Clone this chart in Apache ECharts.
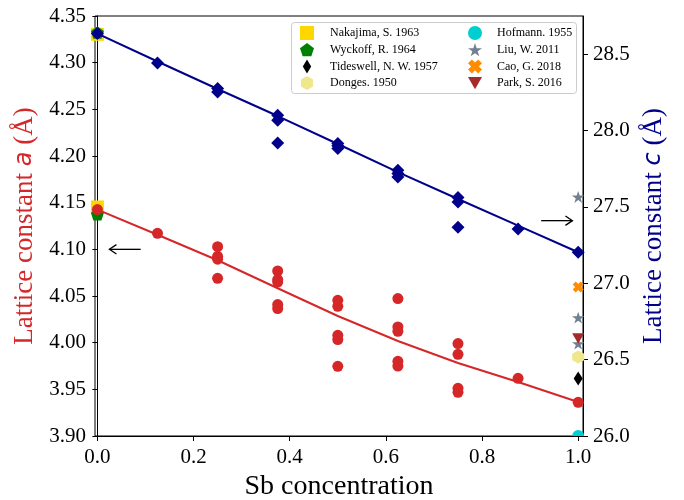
<!DOCTYPE html>
<html>
<head>
<meta charset="utf-8">
<script src="https://cdn.jsdelivr.net/npm/echarts@6/dist/echarts.min.js"></script>
<style>
  html, body { margin: 0; padding: 0; background: #fff; }
  #chart { width: 684px; height: 500px; }
</style>
</head>
<body>
<div id="chart"></div>
<script>
// Sb concentration of the computed structures
const concentrations = [0, 0.125, 0.25, 0.375, 0.5, 0.625, 0.75, 0.875, 1];

// Fitted trend lines (a on the left axis, c on the right axis)
const aFitLine = [4.1426, 4.1156, 4.0883, 4.0583, 4.0286, 4.0018, 3.9782, 3.9579, 3.9364];
const cFitLine = [28.635, 28.452, 28.272, 28.095, 27.912, 27.728, 27.552, 27.378, 27.203];

// Computed lattice constants, one list per concentration
const aComputed = [
  [4.1426],
  [4.1172],
  [4.1029, 4.0925, 4.0895, 4.0690],
  [4.0768, 4.0676, 4.0650, 4.0408, 4.0365],
  [4.0454, 4.0390, 4.0079, 4.0033, 3.9747],
  [4.0472, 4.0168, 4.0122, 3.9800, 3.9750],
  [3.9990, 3.9875, 3.9511, 3.9468],
  [3.9618],
  [3.9361]
];
const cComputed = [
  [28.635],
  [28.443],
  [28.275, 28.253],
  [28.100, 28.067, 27.919],
  [27.915, 27.900, 27.882],
  [27.740, 27.718, 27.696],
  [27.561, 27.532, 27.367],
  [27.356],
  [27.203]
];

// Literature values: [concentration, lattice constant]
const nakajimaA = [[0, 4.1454]];
const nakajimaC = [[0, 28.630]];
const wyckoffA = [[0, 4.1375]];
const wyckoffC = [[0, 28.642]];
const tideswellC = [[1, 26.376]];
const dongesC = [[1, 26.517]];
const hofmannC = [[1, 26.0]];
const liuC = [[1, 27.565], [1, 26.775], [1, 26.605]];
const caoC = [[1, 26.976]];
const parkC = [[1, 26.638]];

// Tick values
const xTicks = [0, 0.2, 0.4, 0.6, 0.8, 1.0];
const aTicks = [3.90, 3.95, 4.00, 4.05, 4.10, 4.15, 4.20, 4.25, 4.30, 4.35];
const cTicks = [26.0, 26.5, 27.0, 27.5, 28.0, 28.5];

// Arrows pointing each curve to its axis: [start, end] in data units
const arrowToA = [[0.09, 4.10], [0.025, 4.10]];
const arrowToC = [[0.923, 27.41], [0.988, 27.41]];

const RED = '#d62728';
const BLUE = '#00008b';
const SERIF = 'Liberation Serif';

const SYM = {
  pentagon: 'path://M0,-1L0.951,-0.309L0.588,0.809L-0.588,0.809L-0.951,-0.309Z',
  thinDiamond: 'path://M0,-1L0.6,0L0,1L-0.6,0Z',
  hexagon: 'path://M0,-1L0.866,-0.5L0.866,0.5L0,1L-0.866,0.5L-0.866,-0.5Z',
  star: 'path://M0,-1L0.2245,-0.309L0.951,-0.309L0.3633,0.118L0.588,0.809L0,0.382L-0.588,0.809L-0.3633,0.118L-0.951,-0.309L-0.2245,-0.309Z',
  cross: 'path://M0,-0.55L0.45,-1L1,-0.45L0.55,0L1,0.45L0.45,1L0,0.55L-0.45,1L-1,0.45L-0.55,0L-1,-0.45L-0.45,-1Z',
  triDown: 'path://M-1,-0.8L1,-0.8L0,0.93Z',
  halfDisc: 'path://M-1,0A1,1 0 0 1 1,0Z'
};

function flatten(groups) {
  const out = [];
  groups.forEach((vals, i) => vals.forEach(v => out.push([concentrations[i], v])));
  return out;
}
function pairs(vals) {
  return vals.map((v, i) => [concentrations[i], v]);
}
function ref(name, data, yAxisIndex, symbol, size, color, extra) {
  return Object.assign({
    name, type: 'scatter', yAxisIndex, data, symbol, symbolSize: size,
    itemStyle: { color, opacity: 1 }, z: 2, silent: true
  }, extra || {});
}

const chart = echarts.init(document.getElementById('chart'), null, { renderer: 'canvas' });

const axisCommon = {
  axisLine: { show: true, lineStyle: { color: '#000', width: 1 } },
  axisTick: { show: true, inside: false, length: 5, lineStyle: { color: '#000', width: 1 } },
  splitLine: { show: false },
  axisLabel: { color: '#000', fontFamily: SERIF, fontSize: 21 }
};

const legendText = { fontFamily: SERIF, fontSize: 12, color: '#000', lineHeight: 14 };

chart.setOption({
  animation: false,
  backgroundColor: '#fff',
  grid: {
    left: 95, right: 101, top: 16, bottom: 64,
    outerBoundsMode: 'none', containLabel: false,
    show: true, borderColor: '#000', borderWidth: 1
  },
  legend: [
    {
      orient: 'vertical', left: 300, top: 26, padding: 0,
      itemWidth: 14, itemHeight: 14, itemGap: 2.7,
      textStyle: Object.assign({ padding: [0, 0, 0, 11] }, legendText),
      data: [
        { name: 'Nakajima, S. 1963', icon: 'rect' },
        { name: 'Wyckoff, R. 1964' },
        { name: 'Tideswell, N. W. 1957' },
        { name: 'Donges. 1950' }
      ]
    },
    {
      orient: 'vertical', left: 468, top: 26, padding: 0,
      itemWidth: 14, itemHeight: 14, itemGap: 2.7,
      textStyle: Object.assign({ padding: [0, 0, 0, 10] }, legendText),
      data: [
        { name: 'Hofmann. 1955', icon: 'circle' },
        { name: 'Liu, W. 2011' },
        { name: 'Cao, G. 2018' },
        { name: 'Park, S. 2016' }
      ]
    }
  ],
  xAxis: Object.assign({}, axisCommon, {
    type: 'value', min: -0.005, max: 1.01,
    axisTick: Object.assign({}, axisCommon.axisTick, { customValues: xTicks }),
    axisLabel: Object.assign({}, axisCommon.axisLabel, {
      customValues: xTicks, margin: 11, formatter: v => v.toFixed(1)
    }),
    name: 'Sb concentration', nameLocation: 'middle', nameGap: 30,
    nameTextStyle: { fontFamily: SERIF, fontSize: 28, color: '#000' }
  }),
  yAxis: [
    Object.assign({}, axisCommon, {
      type: 'value', min: 3.9, max: 4.35, position: 'left',
      axisTick: Object.assign({}, axisCommon.axisTick, { customValues: aTicks }),
      axisLabel: Object.assign({}, axisCommon.axisLabel, {
        customValues: aTicks, margin: 9, formatter: v => v.toFixed(2)
      }),
      name: 'Lattice constant {i|a} (Å)', nameLocation: 'middle', nameRotate: 90, nameGap: 56,
      nameTextStyle: {
        fontFamily: SERIF, fontSize: 27, color: RED,
        rich: { i: { fontFamily: 'DejaVu Sans', fontStyle: 'italic', fontSize: 24, color: RED } }
      }
    }),
    Object.assign({}, axisCommon, {
      type: 'value', min: 26, max: 28.75, position: 'right',
      axisTick: Object.assign({}, axisCommon.axisTick, { customValues: cTicks }),
      axisLabel: Object.assign({}, axisCommon.axisLabel, {
        customValues: cTicks, margin: 10, formatter: v => v.toFixed(1)
      }),
      name: 'Lattice constant {i|c} (Å)', nameLocation: 'middle', nameRotate: 90, nameGap: 57,
      nameTextStyle: {
        fontFamily: SERIF, fontSize: 27, color: BLUE,
        rich: { i: { fontFamily: 'DejaVu Sans', fontStyle: 'italic', fontSize: 24, color: BLUE } }
      }
    })
  ],
  series: [
    ref('Nakajima, S. 1963', nakajimaA, 0, 'rect', 13, '#ffd700'),
    ref('Nakajima, S. 1963', nakajimaC, 1, 'rect', 13, '#ffd700'),
    ref('Wyckoff, R. 1964', wyckoffA, 0, SYM.pentagon, [13, 12.4], '#008000'),
    ref('Wyckoff, R. 1964', wyckoffC, 1, SYM.pentagon, [13, 12.4], '#008000'),
    ref('Tideswell, N. W. 1957', tideswellC, 1, SYM.thinDiamond, [9, 14], '#000000'),
    ref('Donges. 1950', dongesC, 1, SYM.hexagon, [12, 13], '#f0e68c'),
    ref('Hofmann. 1955', hofmannC, 1, SYM.halfDisc, [12, 6], '#00ced1', { symbolOffset: [0, -3], clip: false }),
    ref('Liu, W. 2011', liuC, 1, SYM.star, [12.5, 11.9], '#708090'),
    ref('Cao, G. 2018', caoC, 1, SYM.cross, [11, 11], '#ff8c00'),
    ref('Park, S. 2016', parkC, 1, SYM.triDown, [12, 10.4], '#a52a2a'),
    {
      name: 'a fit', type: 'line', yAxisIndex: 0, data: pairs(aFitLine),
      showSymbol: false, symbol: 'none', smooth: false, z: 3, silent: true,
      lineStyle: { color: RED, width: 2 }
    },
    {
      name: 'c fit', type: 'line', yAxisIndex: 1, data: pairs(cFitLine),
      showSymbol: false, symbol: 'none', smooth: false, z: 3, silent: true,
      lineStyle: { color: BLUE, width: 2 }
    },
    {
      name: 'a computed', type: 'scatter', yAxisIndex: 0, data: flatten(aComputed),
      symbol: 'circle', symbolSize: 11, itemStyle: { color: RED, opacity: 1 }, z: 4, silent: true
    },
    {
      name: 'c computed', type: 'scatter', yAxisIndex: 1, data: flatten(cComputed),
      symbol: 'diamond', symbolSize: 13, itemStyle: { color: BLUE, opacity: 1 }, z: 4, silent: true
    }
  ]
});

function arrowElements(pts, yAxisIndex) {
  const p0 = chart.convertToPixel({ xAxisIndex: 0, yAxisIndex }, pts[0]);
  const p1 = chart.convertToPixel({ xAxisIndex: 0, yAxisIndex }, pts[1]);
  const dir = Math.sign(p1[0] - p0[0]);
  const stroke = { stroke: '#000', lineWidth: 1.3, fill: null };
  return [
    { type: 'line', z: 5, shape: { x1: p0[0], y1: p0[1], x2: p1[0], y2: p1[1] }, style: stroke },
    {
      type: 'polyline', z: 5,
      shape: { points: [[p1[0] - dir * 7, p1[1] - 4.7], [p1[0], p1[1]], [p1[0] - dir * 7, p1[1] + 4.7]] },
      style: stroke
    }
  ];
}

chart.setOption({
  graphic: [
    {
      type: 'rect', z: 3,
      shape: { x: 291.5, y: 22.5, width: 285, height: 71, r: 3 },
      style: { fill: 'rgba(255,255,255,0.8)', stroke: '#cccccc', lineWidth: 1 }
    }
  ].concat(arrowElements(arrowToA, 0), arrowElements(arrowToC, 1))
});
</script>
</body>
</html>
